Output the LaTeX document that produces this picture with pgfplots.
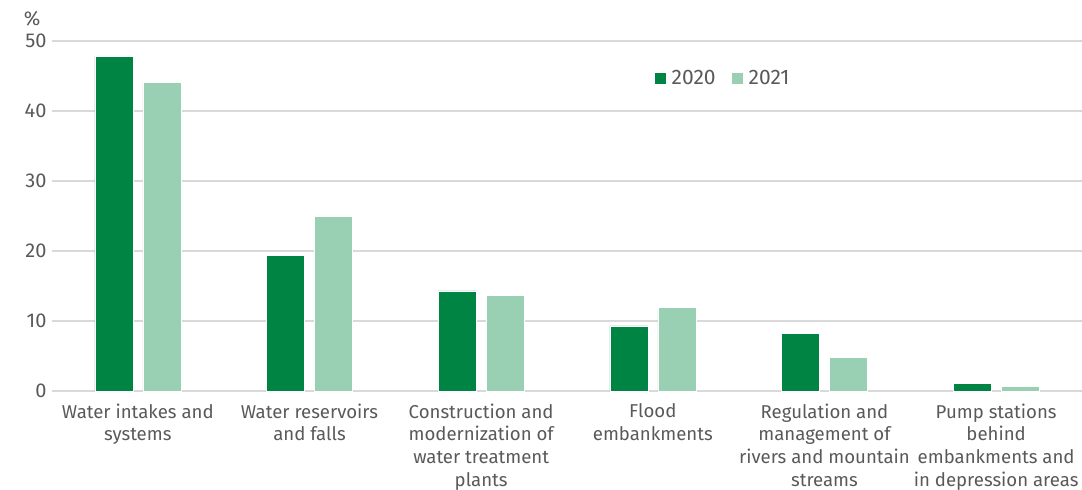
\documentclass[border=0pt]{standalone}
\usepackage{fontspec}
\setmainfont{Fira Sans}
\usepackage{pgfplots}
\pgfplotsset{compat=1.18}
\definecolor{dg}{HTML}{008443}
\definecolor{lg}{HTML}{99CFB3}
\definecolor{gridc}{HTML}{D9D9D9}
\definecolor{txt}{HTML}{595959}
\begin{document}
\begin{tikzpicture}
\begin{axis}[
  scale only axis,
  width=1030pt, height=350pt,
  xmin=-0.5, xmax=5.5, ymin=0, ymax=50,
  ytick={0,10,20,30,40,50},
  xtick={0,1,2,3,4,5},
  xticklabels={{Water intakes and\\systems},{Water reservoirs\\and falls},{Construction and\\modernization of\\water treatment\\plants},{Flood\\embankments},{Regulation and\\management of\\rivers and mountain\\streams},{Pump stations\\behind\\embankments and\\in depression areas}},
  xticklabel style={align=center, text=txt, font=\fontsize{18.6}{22.7}\selectfont, yshift=-9pt},
  yticklabel style={text=txt, font=\fontsize{20}{22}\selectfont, xshift=-2pt},
  /pgf/number format/assume math mode=true,
  major tick length=0pt,
  axis x line*=bottom, axis y line*=left,
  x axis line style={gridc, line width=1.5pt},
  y axis line style={draw=none},
  ymajorgrids, grid style={gridc, line width=1.5pt},
  ybar, bar width=38pt,
  legend style={at={(0.582,0.894)}, anchor=west, draw=none, fill=none, legend columns=2, font=\fontsize{21}{24}\selectfont, text=txt, /tikz/every even column/.append style={column sep=14pt}},
  legend image code/.code={\fill[#1, draw=none] (0pt,-5.5pt) rectangle (11pt,5.5pt); \path[draw=none, fill=none] (0pt,0pt) -- (15pt,0pt);},
  clip=false,
]
\addplot[fill=dg, draw=white, line width=0.5pt, bar shift=-24pt] coordinates {(0,47.8) (1,19.4) (2,14.3) (3,9.3) (4,8.2) (5,1.1)};
\addplot[fill=lg, draw=white, line width=0.5pt, bar shift=24pt] coordinates {(0,44.1) (1,24.9) (2,13.7) (3,11.9) (4,4.8) (5,0.7)};
\legend{2020,2021}
\node[text=txt, font=\fontsize{20}{22}\selectfont, anchor=south east] at (rel axis cs:0,1) [xshift=-8pt, yshift=11pt] {\%};
\end{axis}
\pgfresetboundingbox
\path (current axis.south west) ++(-52pt,-99pt) rectangle ++(1082pt,490pt);
\end{tikzpicture}
\end{document}
